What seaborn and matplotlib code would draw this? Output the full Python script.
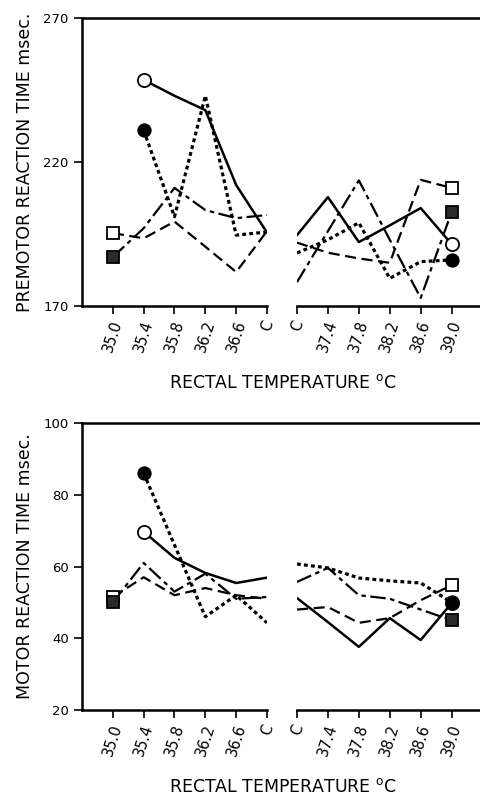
import numpy as np
import matplotlib
matplotlib.use('Agg')
import matplotlib.pyplot as plt
import seaborn as sns

sns.set_style('white')
plt.rcParams['font.family'] = ['DejaVu Sans']
plt.rcParams['text.color'] = 'black'
plt.rcParams['axes.edgecolor'] = 'black'
plt.rcParams['xtick.color'] = 'black'
plt.rcParams['ytick.color'] = 'black'

nan = np.nan

# x categories for the two halves of the broken temperature axis
left_labels = ['35.0', '35.4', '35.8', '36.2', '36.6', 'C']
right_labels = ['C', '37.4', '37.8', '38.2', '38.6', '39.0']

# Premotor reaction time (msec)
pre_open_circle_l = [nan, 248.5, 243, 238, 212, 195.5]
pre_open_circle_r = [194.6, 207.8, 192.2, 198, 204, 191.5]
pre_filled_circle_l = [nan, 231, 201, 243, 194.6, 195.7]
pre_filled_circle_r = [188.4, 193, 198.9, 179.6, 185.4, 186]
pre_open_square_l = [195.3, 193.5, 199.3, 190.6, 181.8, 196]
pre_open_square_r = [192, 188.5, 186.5, 185, 213.8, 211]
pre_filled_square_l = [187, 197, 211, 203.3, 200.5, 201.6]
pre_filled_square_r = [178.3, 196, 213.6, 193, 172.8, 202.6]

# Motor reaction time (msec)
mot_open_circle_l = [nan, 69.7, 62.4, 58.2, 55.4, 56.9]
mot_open_circle_r = [51.2, 44.5, 37.6, 45.6, 39.5, 49.8]
mot_filled_circle_l = [nan, 86, 66, 46, 52, 44.3]
mot_filled_circle_r = [60.7, 59.6, 56.8, 56, 55.4, 50]
mot_open_square_l = [51.5, 57, 52, 54, 52, 51]
mot_open_square_r = [48, 48.7, 44.3, 45.6, 50.6, 54.8]
mot_filled_square_l = [50, 61, 53, 58, 51, 51.5]
mot_filled_square_r = [55.7, 59.6, 52, 51, 48, 45]

# line style / marker for each subject
styles = {
    'open_circle': dict(ls='-', lw=1.8, marker='o', mfc='white', ms=9.5),
    'filled_circle': dict(ls=(0, (1.2, 1.0)), lw=2.3, marker='o', mfc='black', ms=9),
    'open_square': dict(ls=(0, (5, 2.5)), lw=1.6, marker='s', mfc='white', ms=8),
    'filled_square': dict(ls=(0, (7, 2, 2, 2)), lw=1.6, marker='s', mfc='#2b2b2b', ms=8),
}

premotor = {
    'open_circle': (pre_open_circle_l, pre_open_circle_r),
    'filled_circle': (pre_filled_circle_l, pre_filled_circle_r),
    'open_square': (pre_open_square_l, pre_open_square_r),
    'filled_square': (pre_filled_square_l, pre_filled_square_r),
}
motor = {
    'open_circle': (mot_open_circle_l, mot_open_circle_r),
    'filled_circle': (mot_filled_circle_l, mot_filled_circle_r),
    'open_square': (mot_open_square_l, mot_open_square_r),
    'filled_square': (mot_filled_square_l, mot_filled_square_r),
}

W, H = 481, 799
fig = plt.figure(figsize=(W / 100, H / 100), dpi=100)


def fx(px):
    return px / W


def fy(py):
    return 1 - py / H


def draw_panel(y_top, y_bot, data, ylim, yticks, ylabel):
    h = fy(y_top) - fy(y_bot)
    # frame line across the top (continuous over the break)
    bg = fig.add_axes([fx(82), fy(y_bot), fx(481) - fx(82), h], zorder=0)
    bg.set_xticks([])
    bg.set_yticks([])
    for s in ['left', 'right', 'bottom']:
        bg.spines[s].set_visible(False)
    bg.spines['top'].set_linewidth(1.8)
    bg.patch.set_alpha(0)

    axl = fig.add_axes([fx(82), fy(y_bot), fx(267) - fx(82), h], zorder=1)
    axr = fig.add_axes([fx(297), fy(y_bot), fx(481) - fx(297), h], zorder=1)
    axl.set_xlim(-1, 5)
    axr.set_xlim(0, 5.95)
    x = np.arange(6)
    for name, (vl, vr) in data.items():
        st = styles[name]
        for ax, vals, end in [(axl, vl, 'first'), (axr, vr, 'last')]:
            vals = np.array(vals, dtype=float)
            sns.lineplot(x=x, y=vals, ax=ax, color='black', linewidth=st['lw'],
                         linestyle=st['ls'], estimator=None, sort=False)
            ok = np.where(~np.isnan(vals))[0]
            i = ok[0] if end == 'first' else ok[-1]
            ax.plot(x[i], vals[i], marker=st['marker'], ms=st['ms'],
                    mfc=st['mfc'], mec='black', mew=1.3, ls='none', zorder=5)
    for ax in (axl, axr):
        ax.set_ylim(*ylim)
        ax.set_xticks(x)
        ax.spines['right'].set_visible(False)
        ax.spines['top'].set_visible(False)
        ax.spines['bottom'].set_linewidth(1.8)
        ax.patch.set_alpha(0)
        ax.tick_params(axis='x', direction='out', length=6, width=1.2,
                       labelsize=10.5, pad=3, bottom=True)
        ax.set_xlabel('')
        ax.set_ylabel('')
    axl.set_xticklabels(left_labels, rotation=72, ha='center', va='top')
    axr.set_xticklabels(right_labels, rotation=72, ha='center', va='top')
    axl.spines['left'].set_linewidth(1.8)
    axl.set_yticks(yticks)
    axl.tick_params(axis='y', direction='out', length=6, width=1.2,
                    labelsize=9.5, left=True)
    axr.spines['left'].set_visible(False)
    axr.set_yticks([])
    fig.text(fx(25), (fy(y_top) + fy(y_bot)) / 2, ylabel, rotation=90,
             ha='center', va='center', fontsize=12.5)
    fig.text(fx(283), fy(y_bot + 77), r'RECTAL TEMPERATURE $^{\rm o}$C',
             ha='center', va='center', fontsize=12.5)


draw_panel(18, 306, premotor, (170, 270), [170, 220, 270],
           'PREMOTOR REACTION TIME msec.')
draw_panel(423, 710, motor, (20, 100), [20, 40, 60, 80, 100],
           'MOTOR REACTION TIME msec.')

plt.savefig('out.png', dpi=100)
